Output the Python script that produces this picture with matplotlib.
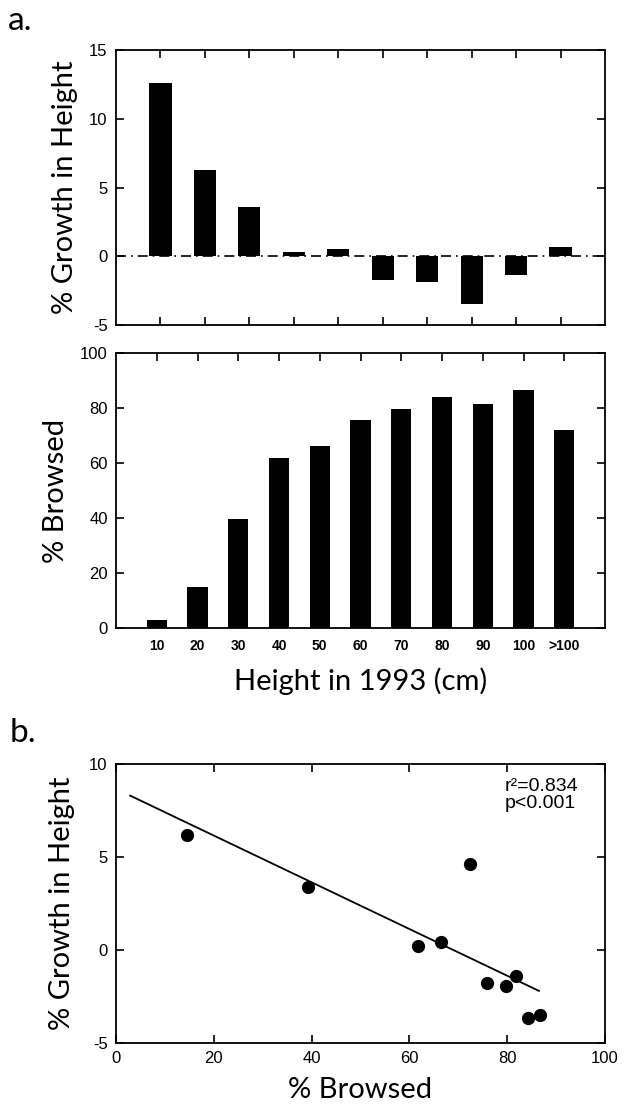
import numpy as np
import matplotlib
matplotlib.use('Agg')
import matplotlib.pyplot as plt
from matplotlib.ticker import MultipleLocator

# panel a, top: % growth in height for each 1993 height class
growth_pos = [1, 2, 3, 4, 5, 6, 7, 8, 9, 10]
growth = [12.6, 6.3, 3.55, 0.3, 0.55, -1.7, -1.85, -3.5, -1.35, 0.65]

# panel a, bottom: % browsed for each height class
height_labels = ['10', '20', '30', '40', '50', '60', '70', '80', '90', '100', '>100']
browsed = [3.0, 14.8, 39.8, 61.9, 66.3, 75.8, 79.7, 84.1, 81.5, 86.4, 72.0]

# panel b: growth vs browsing
scat_x = [14.6, 39.3, 61.7, 66.5, 72.3, 75.9, 79.8, 81.8, 84.3, 86.8]
scat_y = [6.2, 3.4, 0.2, 0.45, 4.65, -1.8, -1.95, -1.4, -3.65, -3.5]
fit_x = [2.9, 86.5]
fit_y = [8.3, -2.2]

plt.rcParams['font.family'] = ['Liberation Sans', 'DejaVu Sans']
plt.rcParams['axes.linewidth'] = 1.3
plt.rcParams['axes.unicode_minus'] = False

W, H = 633, 1113
fig = plt.figure(figsize=(W / 100, H / 100), dpi=100)


def box(left, top, right, bottom):
    return [left / W, 1 - bottom / H, (right - left) / W, (bottom - top) / H]


label_font = dict(family=['Lato', 'DejaVu Sans'], fontsize=21,
                  fontweight='normal', color='black')


def style(ax):
    ax.tick_params(direction='in', length=6, width=1.2, top=True, right=True,
                   labelsize=12, pad=6)


# --- top panel ---
ax1 = fig.add_axes(box(116, 50, 605, 325))
ax1.bar(growth_pos, growth, width=0.5, color='black')
ax1.axhline(0, color='black', lw=1.2, ls=(0, (6, 3, 1, 3)))
ax1.set_xlim(0, 11)
ax1.set_ylim(-5, 15)
ax1.set_xticks(growth_pos)
ax1.set_xticklabels([])
ax1.yaxis.set_major_locator(MultipleLocator(5))
style(ax1)
ax1.set_ylabel('% Growth in Height', labelpad=8, **label_font)

# --- middle panel ---
ax2 = fig.add_axes(box(116, 353, 605, 628))
pos2 = np.arange(1, len(browsed) + 1)
ax2.bar(pos2, browsed, width=0.5, color='black')
ax2.set_xlim(0, 12)
ax2.set_ylim(0, 100)
ax2.set_xticks(pos2)
ax2.set_xticklabels(height_labels, fontweight='bold')
ax2.yaxis.set_major_locator(MultipleLocator(20))
style(ax2)
ax2.tick_params(axis='x', labelsize=10, bottom=False, pad=8)
ax2.set_ylabel('% Browsed', labelpad=8, **label_font)
ax2.set_xlabel('Height in 1993 (cm)', labelpad=10, **label_font)

# --- bottom panel ---
ax3 = fig.add_axes(box(116, 764, 605, 1043))
ax3.plot(fit_x, fit_y, color='black', lw=1.3)
ax3.plot(scat_x, scat_y, 'o', color='black', markersize=8.5)
ax3.set_xlim(0, 100)
ax3.set_ylim(-5, 10)
ax3.xaxis.set_major_locator(MultipleLocator(20))
ax3.yaxis.set_major_locator(MultipleLocator(5))
style(ax3)
ax3.set_ylabel('% Growth in Height', labelpad=10, **label_font)
ax3.set_xlabel('% Browsed', labelpad=8, **label_font)
ax3.text(0.795, 0.95, 'r\u00b2=0.834\np<0.001', transform=ax3.transAxes,
         fontsize=14, va='top', ha='left', linespacing=1.0)

fig.text(8 / W, 1 - 6 / H, 'a.', fontsize=24, va='top', ha='left',
         family=['Lato', 'DejaVu Sans'], color='black')
fig.text(10 / W, 1 - 718 / H, 'b.', fontsize=24, va='top', ha='left',
         family=['Lato', 'DejaVu Sans'], color='black')

fig.savefig('out.png', dpi=100)
